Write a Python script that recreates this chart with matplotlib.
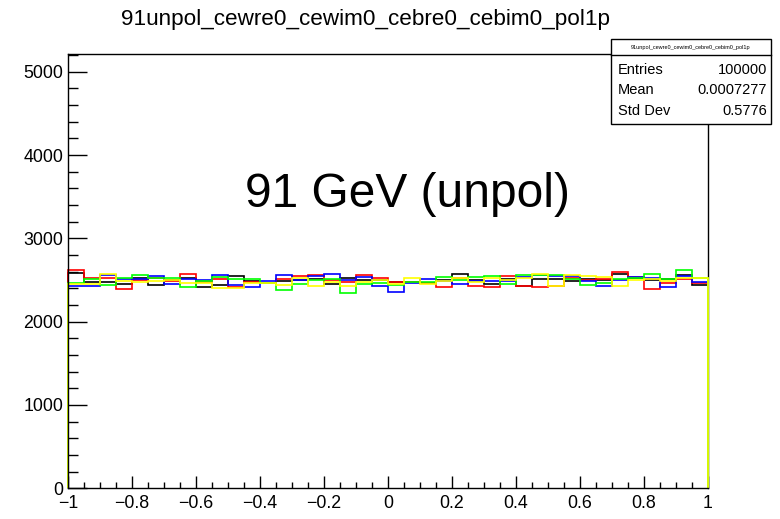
import numpy as np
from matplotlib import pyplot as plt
from matplotlib.ticker import MultipleLocator, FuncFormatter

plt.rcParams['font.family'] = ['Liberation Sans', 'DejaVu Sans']

# 40 bins between -1 and 1, counts
edges = np.linspace(-1.0, 1.0, 41)

black = [2585, 2480, 2480, 2457, 2524, 2445, 2504, 2524, 2417, 2440,
         2544, 2484, 2470, 2490, 2504, 2508, 2452, 2524, 2505, 2505,
         2472, 2473, 2465, 2504, 2575, 2504, 2457, 2510, 2433, 2508,
         2510, 2485, 2517, 2500, 2577, 2520, 2505, 2510, 2565, 2437]
red = [2615, 2520, 2520, 2397, 2496, 2520, 2490, 2570, 2472, 2508,
       2417, 2472, 2464, 2516, 2544, 2560, 2500, 2480, 2560, 2520,
       2475, 2475, 2470, 2417, 2520, 2425, 2417, 2544, 2425, 2416,
       2430, 2520, 2500, 2517, 2597, 2537, 2397, 2460, 2510, 2470]
blue = [2425, 2425, 2555, 2516, 2516, 2544, 2457, 2508, 2496, 2555,
        2440, 2417, 2484, 2555, 2500, 2552, 2571, 2505, 2536, 2425,
        2360, 2465, 2512, 2485, 2457, 2485, 2485, 2485, 2536, 2560,
        2545, 2545, 2485, 2430, 2497, 2537, 2530, 2415, 2545, 2477]
green = [2460, 2508, 2436, 2524, 2555, 2528, 2528, 2417, 2490, 2535,
         2510, 2516, 2470, 2385, 2452, 2505, 2516, 2346, 2456, 2460,
         2437, 2480, 2480, 2536, 2500, 2536, 2544, 2457, 2560, 2560,
         2557, 2510, 2437, 2470, 2510, 2520, 2577, 2515, 2625, 2525]
yellow = [2455, 2455, 2570, 2485, 2472, 2484, 2496, 2464, 2464, 2405,
          2400, 2460, 2465, 2445, 2525, 2433, 2480, 2425, 2480, 2495,
          2455, 2528, 2448, 2490, 2520, 2475, 2520, 2500, 2525, 2576,
          2430, 2565, 2550, 2540, 2430, 2497, 2510, 2490, 2520, 2520]

series = [(black, 'black'), (red, 'red'), (blue, 'blue'),
          (green, '#00ff00'), (yellow, '#ffff00')]

title = '91unpol_cewre0_cewim0_cebre0_cebim0_pol1p'
stats = [('Entries', '100000'), ('Mean', '0.0007277'), ('Std Dev', '0.5776')]

W, H = 780, 519
fig = plt.figure(figsize=(W / 100, H / 100), dpi=100)
ax = fig.add_axes([68 / W, 1 - 488.3 / H, 640 / W, (488.3 - 54) / H])

for vals, col in series:
    ax.stairs(vals, edges, baseline=0, color=col, lw=1.2, zorder=3, clip_on=False)

ax.set_xlim(-1, 1)
ax.set_ylim(0, 5213)

for side in ['left', 'bottom', 'top', 'right']:
    ax.spines[side].set_linewidth(1.0)
ax.spines['left'].set_zorder(5)
ax.spines['bottom'].set_zorder(5)
ax.spines['right'].set_zorder(1)

ax.xaxis.set_major_locator(MultipleLocator(0.2))
ax.xaxis.set_minor_locator(MultipleLocator(0.05))
ax.yaxis.set_major_locator(MultipleLocator(1000))
ax.yaxis.set_minor_locator(MultipleLocator(200))
ax.xaxis.set_major_formatter(FuncFormatter(lambda v, p: ('%g' % round(v, 2)).replace('-', '\u2212')))
ax.yaxis.set_major_formatter(FuncFormatter(lambda v, p: '%d' % v))

ax.tick_params(axis='x', which='major', direction='in', length=8.6, width=1, labelsize=12.8, pad=4.5)
ax.tick_params(axis='x', which='minor', direction='in', length=4.3, width=1)
ax.tick_params(axis='y', which='major', direction='in', length=13.7, width=1, labelsize=12.8, pad=3.5)
ax.tick_params(axis='y', which='minor', direction='in', length=7.2, width=1)

fig.text(366 / W, 1 - 25 / H, title, ha='center', va='baseline', fontsize=16.2)
fig.text(245 / W, 1 - 207 / H, '91 GeV (unpol)', ha='left', va='baseline', fontsize=34.5)

# stats box
bx0, bx1, by0, by1, bh = 611, 771, 39, 124, 55
box = plt.Rectangle((bx0 / W, 1 - by1 / H), (bx1 - bx0) / W, (by1 - by0) / H,
                    transform=fig.transFigure, facecolor='white', edgecolor='black',
                    lw=1, zorder=10)
fig.add_artist(box)
fig.add_artist(plt.Line2D([bx0 / W, bx1 / W], [1 - bh / H, 1 - bh / H],
                          transform=fig.transFigure, color='black', lw=1, zorder=11))
fig.text((bx0 + bx1) / 2 / W, 1 - 47 / H, title, ha='center', va='center',
         fontsize=4, zorder=12)
for i, (k, v) in enumerate(stats):
    yy = 1 - (70 + 20.5 * i) / H
    fig.text(618 / W, yy, k, ha='left', va='center', fontsize=10.5, zorder=12)
    fig.text(767 / W, yy, v, ha='right', va='center', fontsize=10.5, zorder=12)

fig.savefig('out.png', dpi=100)
